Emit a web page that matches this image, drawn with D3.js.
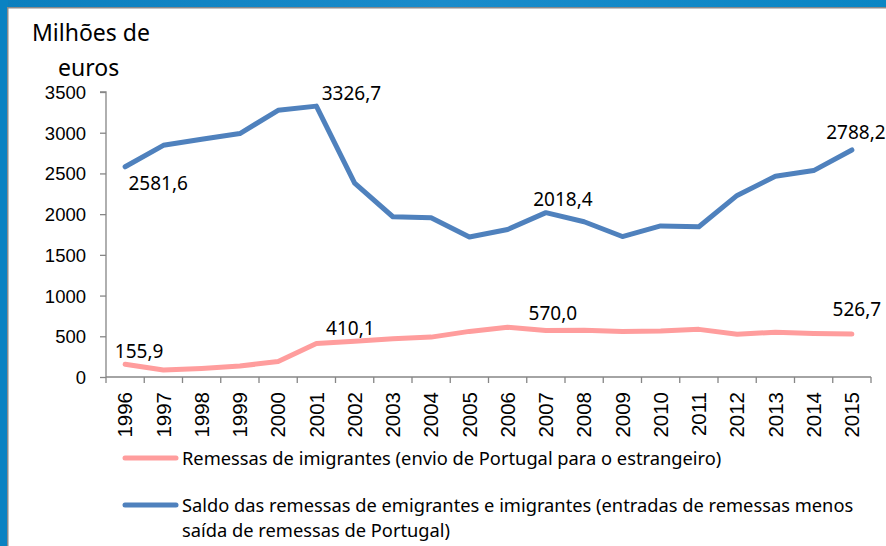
<!DOCTYPE html>
<html>
<head>
<meta charset="utf-8">
<script src="https://cdn.jsdelivr.net/npm/d3@7"></script>
<style>
body{margin:0;background:#fff;}
svg{display:block;font-family:"Noto Sans",sans-serif;}
</style>
</head>
<body>
<svg id="chart" width="886" height="546"></svg>
<script>
// anos e valores (milhões de euros)
var years=['1996','1997','1998','1999','2000','2001','2002','2003','2004','2005','2006','2007','2008','2009','2010','2011','2012','2013','2014','2015'];
var saldo=[2581.6,2845,2920,2990,3275,3326.7,2380,1968,1955,1720,1812,2018.4,1907,1725,1855,1845,2230,2465,2535,2788.2];
var imigrantes=[155.9,85,105,135,190,410.1,440,470,490,560,610,570.0,575,560,565,585,525,550,535,526.7];
var yTicks=[0,500,1000,1500,2000,2500,3000,3500];
var legendNames=['Remessas de imigrantes (envio de Portugal para o estrangeiro)',
  'Saldo das remessas de emigrantes e imigrantes (entradas de remessas menos',
  'saída de remessas de Portugal)'];

var svg=d3.select('#chart');

// moldura azul (topo e esquerda)
var grad=svg.append('defs').append('linearGradient').attr('id','band');
grad.append('stop').attr('offset','0%').attr('stop-color','#0b7fbe');
grad.append('stop').attr('offset','50%').attr('stop-color','#1a8ccb');
grad.append('stop').attr('offset','100%').attr('stop-color','#0a86c4');
svg.append('rect').attr('x',0).attr('y',0).attr('width',886).attr('height',8).attr('fill','url(#band)');
svg.append('rect').attr('x',0).attr('y',0).attr('width',8).attr('height',546).attr('fill','#0a82c2');
svg.append('rect').attr('x',7).attr('y',7).attr('width',879).attr('height',1.5).attr('fill','#8a8a8a');
svg.append('rect').attr('x',7).attr('y',7).attr('width',1.5).attr('height',539).attr('fill','#8a8a8a');

var x=d3.scaleBand().domain(years).range([106,871]);
var y=d3.scaleLinear().domain([0,3500]).range([377,92]);

// eixo y
var yAxis=svg.append('g').attr('transform','translate(106,0)')
  .call(d3.axisLeft(y).tickValues(yTicks).tickSize(6).tickPadding(14).tickFormat(d3.format('d')));
yAxis.select('.domain').attr('d','M-6,'+y(3500)+'H0V'+y(0));
yAxis.selectAll('path,line').attr('stroke','#868686').attr('stroke-width',1.3);
yAxis.selectAll('text').attr('fill','#000').style('font-size','18.5px').attr('dy','0.35em');

// eixo x
var xAxis=svg.append('g').attr('transform','translate(0,377)')
  .call(d3.axisBottom(x).tickSize(0).tickPadding(0));
xAxis.select('.domain').attr('d','M106,0H871');
xAxis.selectAll('path').attr('stroke','#868686').attr('stroke-width',1.3);
xAxis.selectAll('text').attr('fill','#000').style('font-size','20.5px')
  .attr('text-anchor','end').attr('dy','0.35em')
  .attr('transform','translate(0,15) rotate(-90)');
var edges=years.map(function(d){return x(d);}).concat([x.range()[1]]);
xAxis.selectAll('.edge').data(edges).enter().append('line')
  .attr('x1',function(d){return d;}).attr('x2',function(d){return d;})
  .attr('y1',0).attr('y2',6).attr('stroke','#868686').attr('stroke-width',1.3);

// título do eixo
svg.append('text').attr('x',32).attr('y',41).style('font-size','23px').text('Milhões de');
svg.append('text').attr('x',58).attr('y',76).style('font-size','23px').text('euros');

var line=d3.line()
  .x(function(d,i){return x(years[i])+x.bandwidth()/2;})
  .y(function(d){return y(d);});

svg.append('path').datum(imigrantes).attr('d',line).attr('fill','none')
  .attr('stroke','#ff9d9d').attr('stroke-width',5).attr('stroke-linejoin','round').attr('stroke-linecap','round');
svg.append('path').datum(saldo).attr('d',line).attr('fill','none')
  .attr('stroke','#4f81bd').attr('stroke-width',5).attr('stroke-linejoin','round').attr('stroke-linecap','round');

// rótulos de dados
var fmt=function(v){return d3.format('.1f')(v).replace('.',',');};
var labels=[
  {s:saldo,i:0,dx:33,dy:23},
  {s:saldo,i:5,dx:35,dy:-6},
  {s:saldo,i:11,dx:17,dy:-7},
  {s:saldo,i:19,dx:4,dy:-11},
  {s:imigrantes,i:0,dx:14,dy:-6},
  {s:imigrantes,i:5,dx:34,dy:-9},
  {s:imigrantes,i:11,dx:7,dy:-11},
  {s:imigrantes,i:19,dx:5,dy:-18}
];
svg.selectAll('.lbl').data(labels).enter().append('text')
  .attr('x',function(d){return x(years[d.i])+x.bandwidth()/2+d.dx;})
  .attr('y',function(d){return y(d.s[d.i])+d.dy;})
  .attr('text-anchor','middle')
  .style('font-size','19px')
  .text(function(d){return fmt(d.s[d.i]);});

// legenda
svg.append('line').attr('x1',125).attr('x2',176).attr('y1',458).attr('y2',458)
  .attr('stroke','#ff9d9d').attr('stroke-width',5).attr('stroke-linecap','round');
svg.append('line').attr('x1',125).attr('x2',176).attr('y1',505).attr('y2',505)
  .attr('stroke','#4f81bd').attr('stroke-width',5).attr('stroke-linecap','round');
svg.append('text').attr('x',182).attr('y',465).style('font-size','18.3px').text(legendNames[0]);
svg.append('text').attr('x',182).attr('y',512).style('font-size','18.3px').text(legendNames[1]);
svg.append('text').attr('x',182).attr('y',537).style('font-size','18.3px').text(legendNames[2]);
</script>
</body>
</html>
